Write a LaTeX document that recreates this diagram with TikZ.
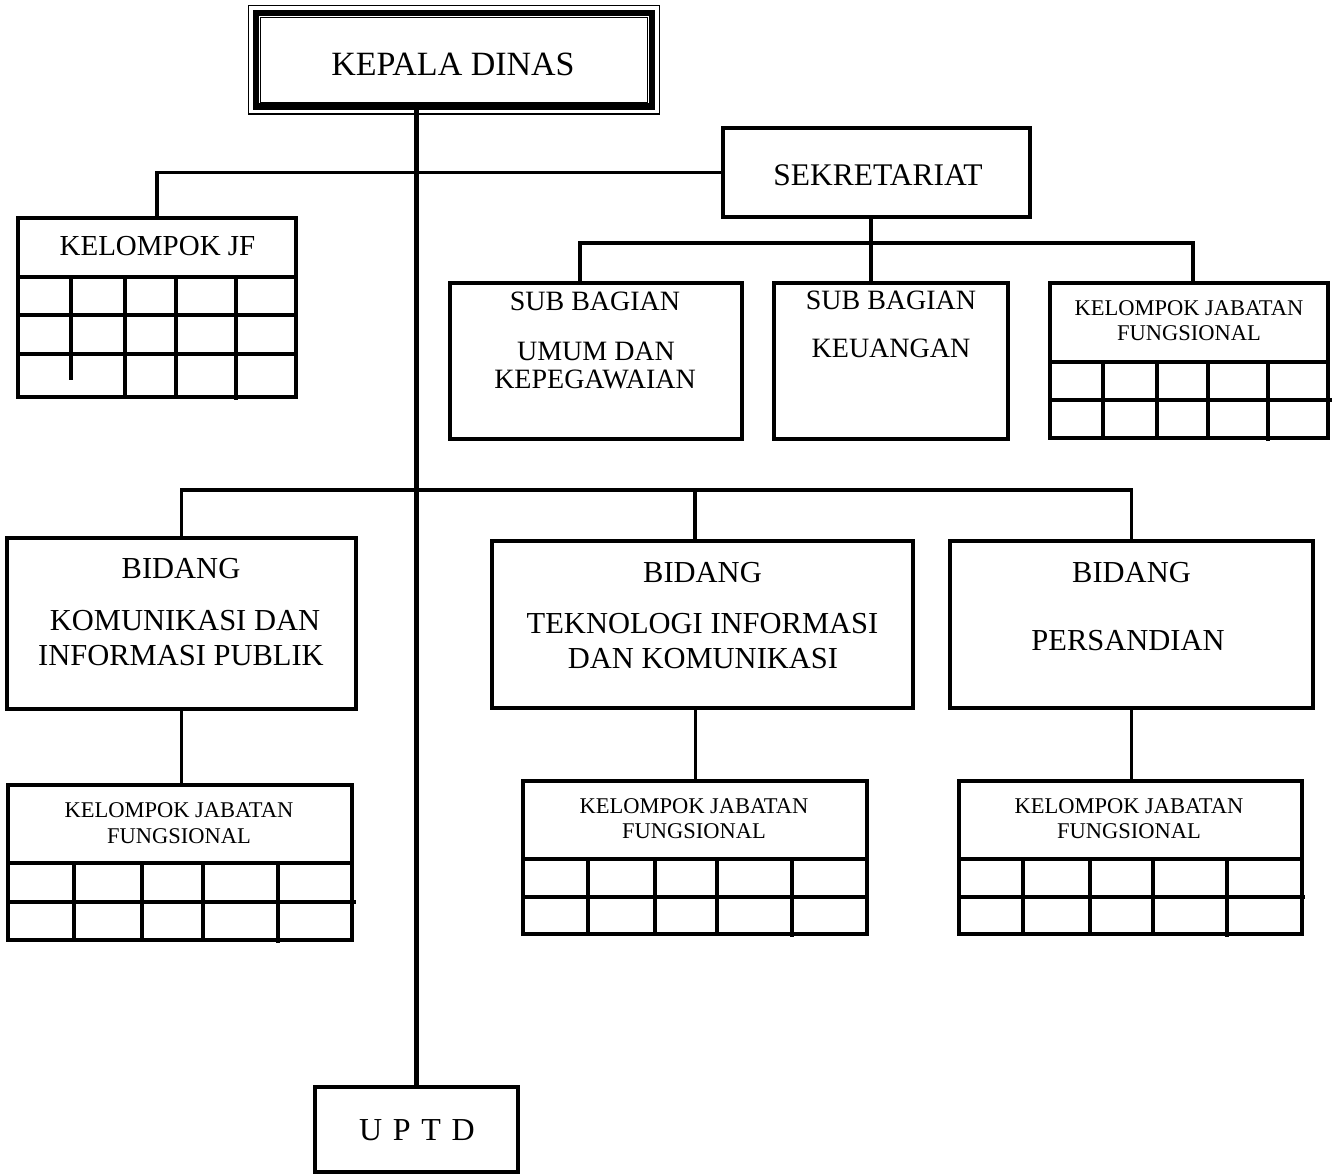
\documentclass[tikz,border=0pt]{standalone}
\usepackage{fontspec}
\setmainfont{Liberation Serif}
\usetikzlibrary{positioning,calc}

\begin{document}
\begin{tikzpicture}[
    x=1pt, y=-1pt,
    unit/.style={rectangle, draw=black, line width=3.5pt, inner sep=0pt, outer sep=0pt},
    link/.style={draw=black, line width=3.5pt},
    thinlink/.style={draw=black, line width=3pt},
    cell/.style={draw=black, line width=3.5pt},
    headtxt/.style={inner sep=0pt, anchor=base, font=\fontsize{34}{34}\selectfont},
    bigtxt/.style={inner sep=0pt, anchor=base, font=\fontsize{30.5}{31}\selectfont},
    subtxt/.style={inner sep=0pt, anchor=base, font=\fontsize{28}{28}\selectfont},
    smalltxt/.style={inner sep=0pt, anchor=base, font=\fontsize{22.5}{23}\selectfont}
]
\useasboundingbox (0,0) rectangle (1335,1175);

% kepala dinas
\node[unit, line width=6.5pt, minimum width=396pt, minimum height=93.5pt] (kadis) at (454,59.75) {};
\draw[line width=1.2pt] ([xshift=-7.5pt,yshift=7.5pt]kadis.north west) rectangle ([xshift=7.5pt,yshift=-7.5pt]kadis.south east);
\draw[line width=1pt] ([xshift=4.5pt,yshift=-4.5pt]kadis.north west) rectangle ([xshift=-4.5pt,yshift=4.5pt]kadis.south east);
\node[headtxt] (kadis-t) at (453,75) {KEPALA DINAS};

% sekretariat
\node[unit, minimum width=307pt, minimum height=89pt] (sek) at (876.5,172.5) {};
\node[bigtxt, font=\fontsize{31.5}{32}\selectfont] (sek-t) at (878,185) {SEKRETARIAT};

\node[unit, minimum width=292pt, minimum height=156pt] (sub1) at (596,361) {};
\node[subtxt] (sub1-a) at (595,310) {SUB BAGIAN};
\node[subtxt] (sub1-b) at (596,360) {UMUM DAN};
\node[subtxt] (sub1-c) at (595,388) {KEPEGAWAIAN};

\node[unit, minimum width=234pt, minimum height=156pt] (sub2) at (891,361) {};
\node[subtxt] (sub2-a) at (891,309) {SUB BAGIAN};
\node[subtxt] (sub2-b) at (891,357) {KEUANGAN};

\node[unit, minimum width=278pt, minimum height=79pt] (jfsek) at (1189,322.5) {};
\node[smalltxt] (jfsek-a) at (1189,315) {KELOMPOK JABATAN};
\node[smalltxt] (jfsek-b) at (1189,340) {FUNGSIONAL};
\draw[cell] (1050,362) rectangle (1328,438) (1050,400) -- (1332,400);
\foreach \x in {1103,1157,1208} \draw[cell] (\x,362) -- (\x,438);
\draw[cell] (1268,362) -- (1268,441);

% kelompok jf kiri
\node[unit, minimum width=278pt, minimum height=59pt] (jf0) at (157,247.5) {};
\node[bigtxt, font=\fontsize{29}{29}\selectfont] (jf0-t) at (157.5,255) {KELOMPOK JF};
\draw[cell] (18,277) rectangle (296,397) (18,315) -- (298,315) (18,354) -- (298,354);
\foreach \x in {125,176} \draw[cell] (\x,277) -- (\x,397);
\draw[cell] (71,277) -- (71,380);
\draw[cell] (236,277) -- (236,400);

% bidang
\node[unit, minimum width=349pt, minimum height=171pt] (kip) at (181.5,623.5) {};
\node[bigtxt] (kip-a) at (181,578) {BIDANG};
\node[bigtxt] (kip-b) at (185,630) {KOMUNIKASI DAN};
\node[bigtxt] (kip-c) at (181,665) {INFORMASI PUBLIK};

\node[unit, minimum width=421pt, minimum height=167pt] (tik) at (702.5,624.5) {};
\node[bigtxt] (tik-a) at (702.5,582) {BIDANG};
\node[bigtxt] (tik-b) at (702.5,633) {TEKNOLOGI INFORMASI};
\node[bigtxt] (tik-c) at (703,668) {DAN KOMUNIKASI};

\node[unit, minimum width=363pt, minimum height=167pt] (sand) at (1131.5,624.5) {};
\node[bigtxt] (sand-a) at (1131.5,582) {BIDANG};
\node[bigtxt] (sand-b) at (1128,650) {PERSANDIAN};

% kelompok jabatan fungsional bidang
\node[unit, minimum width=344pt, minimum height=78pt] (kjf1) at (180,824) {};
\node[smalltxt] (kjf1-a) at (179,817) {KELOMPOK JABATAN};
\node[smalltxt] (kjf1-b) at (179,843) {FUNGSIONAL};
\draw[cell] (8,863) rectangle (352,940) (8,902) -- (356,902);
\foreach \x in {74,142,203} \draw[cell] (\x,863) -- (\x,940);
\draw[cell] (278,863) -- (278,943);

\node[unit, minimum width=344pt, minimum height=78pt] (kjf2) at (695,820) {};
\node[smalltxt] (kjf2-a) at (694,813) {KELOMPOK JABATAN};
\node[smalltxt] (kjf2-b) at (694,838) {FUNGSIONAL};
\draw[cell] (523,859) rectangle (867,934) (523,897) -- (869,897);
\foreach \x in {588,655,717} \draw[cell] (\x,859) -- (\x,934);
\draw[cell] (792,859) -- (792,937);

\node[unit, minimum width=343pt, minimum height=78pt] (kjf3) at (1130.5,820) {};
\node[smalltxt] (kjf3-a) at (1129,813) {KELOMPOK JABATAN};
\node[smalltxt] (kjf3-b) at (1129,838) {FUNGSIONAL};
\draw[cell] (959,859) rectangle (1302,934) (959,897) -- (1305,897);
\foreach \x in {1023,1090,1153} \draw[cell] (\x,859) -- (\x,934);
\draw[cell] (1227,859) -- (1227,937);

% uptd
\node[unit, minimum width=203pt, minimum height=85pt] (uptd) at (416.5,1129.5) {};
\node[headtxt, font=\fontsize{32}{32}\selectfont] (uptd-t) at (417,1140) {U\,\,P\,\,T\,\,D};

% garis
\coordinate (sekbus) at (871,243);
\coordinate (bidbus) at (417,490);
\coordinate (tikdrop) at (695,490);
\draw[link, line width=4.5pt] (uptd.north) -- (uptd.north |- kadis.south);
\draw[link] (jf0.north) |- (sek.west);
\draw[link] (sek.south -| sekbus) -- (sekbus |- sub2.north);
\draw[link] ([xshift=-16pt]sub1.north) |- (sekbus) -| ([xshift=4pt]jfsek.north);
\draw[link] (kip.north) |- (bidbus) -| (sand.north);
\draw[link] (tikdrop) -- (tikdrop |- tik.north);
\draw[thinlink] (kip.south) -- (kip.south |- kjf1.north);
\draw[thinlink] (kjf2.north) -- (kjf2.north |- tik.south);
\draw[thinlink] (sand.south) -- (sand.south |- kjf3.north);
\end{tikzpicture}
\end{document}
